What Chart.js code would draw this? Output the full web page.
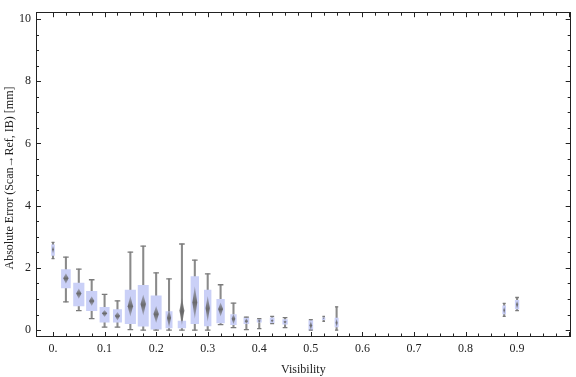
<!DOCTYPE html>
<html>
<head>
<meta charset="utf-8">
<script src="https://cdn.jsdelivr.net/npm/chart.js@4.4.0/dist/chart.umd.min.js"></script>
<style>
  body { margin: 0; background: #fff; }
</style>
</head>
<body>
<canvas id="boxChart" width="576" height="377"></canvas>
<script>
// visibility bins and box-whisker statistics
const visibility   = [0, 0.025, 0.05, 0.075, 0.1, 0.125, 0.15, 0.175, 0.2, 0.225, 0.25, 0.275, 0.3, 0.325, 0.35, 0.375, 0.4, 0.425, 0.45, 0.5, 0.525, 0.55, 0.875, 0.9];
const whiskerLow   = [2.30, 0.91, 0.63, 0.37, 0.10, 0.10, 0.02, 0.00, 0.00, 0.00, 0.00, 0.00, 0.00, 0.18, 0.08, 0.02, 0.05, 0.21, 0.08, 0.00, 0.28, 0.00, 0.44, 0.63];
const quartileLow  = [2.40, 1.36, 0.78, 0.63, 0.26, 0.26, 0.21, 0.13, 0.03, 0.07, 0.07, 0.21, 0.14, 0.23, 0.18, 0.21, 0.26, 0.24, 0.19, 0.00, 0.34, 0.10, 0.52, 0.68];
const quartileHigh = [2.74, 1.95, 1.51, 1.25, 0.73, 0.66, 1.29, 1.44, 1.10, 0.60, 0.29, 1.72, 1.29, 0.99, 0.50, 0.40, 0.34, 0.40, 0.34, 0.31, 0.40, 0.39, 0.78, 0.96];
const whiskerHigh  = [2.82, 2.35, 1.96, 1.62, 1.15, 0.94, 2.51, 2.70, 1.84, 1.65, 2.77, 2.25, 1.81, 1.46, 0.87, 0.42, 0.37, 0.44, 0.40, 0.34, 0.44, 0.75, 0.86, 1.05];
const diamondLow   = [2.45, 1.49, 1.01, 0.78, 0.42, 0.31, 0.44, 0.47, 0.23, 0.08, 0.16, 0.37, 0.26, 0.44, 0.19, 0.20, 0.24, 0.24, 0.20, 0.00, 0.35, 0.10, 0.52, 0.68];
const diamondMid   = [2.60, 1.67, 1.18, 0.94, 0.54, 0.46, 0.77, 0.84, 0.52, 0.40, 0.63, 0.89, 0.71, 0.68, 0.37, 0.29, 0.30, 0.31, 0.27, 0.16, 0.37, 0.24, 0.65, 0.84];
const diamondHigh  = [2.72, 1.83, 1.34, 1.09, 0.65, 0.58, 1.10, 1.15, 0.78, 0.68, 1.04, 1.41, 1.10, 0.89, 0.52, 0.38, 0.34, 0.36, 0.32, 0.29, 0.39, 0.37, 0.75, 0.94];

const xTickValues = [0, 0.1, 0.2, 0.3, 0.4, 0.5, 0.6, 0.7, 0.8, 0.9];
const xTickLabels = ['0.', '0.1', '0.2', '0.3', '0.4', '0.5', '0.6', '0.7', '0.8', '0.9'];
const yTickValues = [0, 2, 4, 6, 8, 10];

// box widths in pixels (style only)
const boxPx = [3, 9, 10.5, 10.5, 9.3, 8.3, 10.5, 10.3, 10.3, 6.3, 7.7, 7.7, 6.7, 7.7, 5.7, 5, 4.3, 4, 4.7, 4, 2.5, 3.3, 3, 3.7];

const serif = '"Liberation Serif", "Times New Roman", serif';
const inkColor = '#222';

const whiskerData = visibility.map((v, i) => ({ x: v, y: [whiskerLow[i], whiskerHigh[i]] }));
const boxData = visibility.map((v, i) => ({ x: v, y: [quartileLow[i], quartileHigh[i]] }));
const capData = [];
const capRadius = [];
visibility.forEach((v, i) => {
    capData.push({ x: v, y: whiskerLow[i] }, { x: v, y: whiskerHigh[i] });
    const r = Math.min(2.8, boxPx[i] / 2);
    capRadius.push(r, r);
});

// box widths, diamonds, frame with inward ticks, y title
const boxPlugin = {
    id: 'boxExtras',
    afterDatasetsUpdate(chart) {
        chart.getDatasetMeta(1).data.forEach((bar, i) => { bar.width = boxPx[i]; });
    },
    afterDatasetsDraw(chart) {
        const { ctx, scales: { x, y } } = chart;
        ctx.save();
        visibility.forEach((v, i) => {
            const cx = x.getPixelForValue(v);
            const top = y.getPixelForValue(diamondHigh[i]);
            const mid = y.getPixelForValue(diamondMid[i]);
            const bot = y.getPixelForValue(diamondLow[i]);
            const hw = Math.min(2.7, boxPx[i] * 0.32);
            const grad = ctx.createLinearGradient(0, top, 0, bot);
            grad.addColorStop(0, 'rgba(110,110,110,0.4)');
            grad.addColorStop(0.5, 'rgba(100,100,100,0.95)');
            grad.addColorStop(1, 'rgba(110,110,110,0.4)');
            ctx.fillStyle = grad;
            ctx.beginPath();
            ctx.moveTo(cx, top);
            ctx.lineTo(cx + hw, mid);
            ctx.lineTo(cx, bot);
            ctx.lineTo(cx - hw, mid);
            ctx.closePath();
            ctx.fill();
        });
        ctx.restore();
    },
    afterDraw(chart) {
        const { ctx, chartArea: a, scales: { x, y } } = chart;
        ctx.save();
        ctx.strokeStyle = inkColor;
        ctx.lineWidth = 1;
        ctx.strokeRect(Math.round(a.left) + 0.5, Math.round(a.top) + 0.5,
                       Math.round(a.right - a.left) - 1, Math.round(a.bottom - a.top) - 1);
        ctx.beginPath();
        // x ticks every 0.025, major every 0.1
        for (let k = 0; k <= 40; k++) {
            const px = Math.round(x.getPixelForValue(k * 0.025)) + 0.5;
            if (px < a.left + 1 || px > a.right - 1) continue;
            const len = k % 4 === 0 ? 5 : 3.5;
            ctx.moveTo(px, a.bottom); ctx.lineTo(px, a.bottom - len);
            ctx.moveTo(px, a.top); ctx.lineTo(px, a.top + len);
        }
        // y ticks every 0.5, major every 2
        for (let k = 0; k <= 20; k++) {
            const py = Math.round(y.getPixelForValue(k * 0.5)) + 0.5;
            const len = k % 4 === 0 ? 5 : 3;
            ctx.moveTo(a.left, py); ctx.lineTo(a.left + len, py);
            ctx.moveTo(a.right, py); ctx.lineTo(a.right - len, py);
        }
        ctx.stroke();

        ctx.translate(10, 178);
        ctx.rotate(-Math.PI / 2);
        ctx.fillStyle = inkColor;
        ctx.font = '12px ' + serif;
        ctx.textAlign = 'center';
        ctx.textBaseline = 'middle';
        ctx.fillText('Absolute Error (Scan\u2192Ref, IB) [mm]', 0, 0);
        ctx.restore();
    }
};

const ctxBox = document.getElementById('boxChart').getContext('2d');
const boxChart = new Chart(ctxBox, {
    type: 'bar',
    data: {
        datasets: [{
            label: 'whiskers',
            data: whiskerData,
            backgroundColor: '#8a8a8a',
            barThickness: 1.4,
            grouped: false,
            order: 3
        },
        {
            label: 'boxes',
            data: boxData,
            backgroundColor: 'rgb(202, 208, 247)',
            barThickness: 9,
            grouped: false,
            order: 2
        },
        {
            type: 'scatter',
            label: 'caps',
            data: capData,
            pointStyle: 'line',
            pointRadius: capRadius,
            borderColor: '#7a7a7a',
            pointBorderWidth: 1.3,
            order: 1
        }]
    },
    options: {
        responsive: false,
        animation: false,
        events: [],
        layout: { padding: { top: 4, right: 3, left: 0, bottom: 0 } },
        plugins: {
            legend: { display: false },
            tooltip: { enabled: false }
        },
        scales: {
            x: {
                type: 'linear',
                offset: false,
                min: -0.033,
                max: 1.004,
                grid: { display: false, drawTicks: false },
                border: { display: false },
                afterBuildTicks: s => { s.ticks = xTickValues.map(v => ({ value: v })); },
                afterFit: s => { s.height = 40; },
                ticks: {
                    padding: 5,
                    color: inkColor,
                    font: { family: serif, size: 12 },
                    maxRotation: 0,
                    autoSkip: false,
                    callback: (v, i) => xTickLabels[i]
                },
                title: {
                    display: true,
                    text: 'Visibility',
                    color: inkColor,
                    font: { family: serif, size: 12 },
                    padding: { top: 0, bottom: 0 }
                }
            },
            y: {
                min: -0.22,
                max: 10.22,
                grid: { display: false, drawTicks: false },
                border: { display: false },
                afterBuildTicks: s => { s.ticks = yTickValues.map(v => ({ value: v })); },
                afterFit: s => { s.width = 36; },
                ticks: {
                    padding: 5,
                    color: inkColor,
                    font: { family: serif, size: 12 },
                    callback: v => String(v)
                }
            }
        }
    },
    plugins: [boxPlugin]
});
</script>
</body>
</html>
